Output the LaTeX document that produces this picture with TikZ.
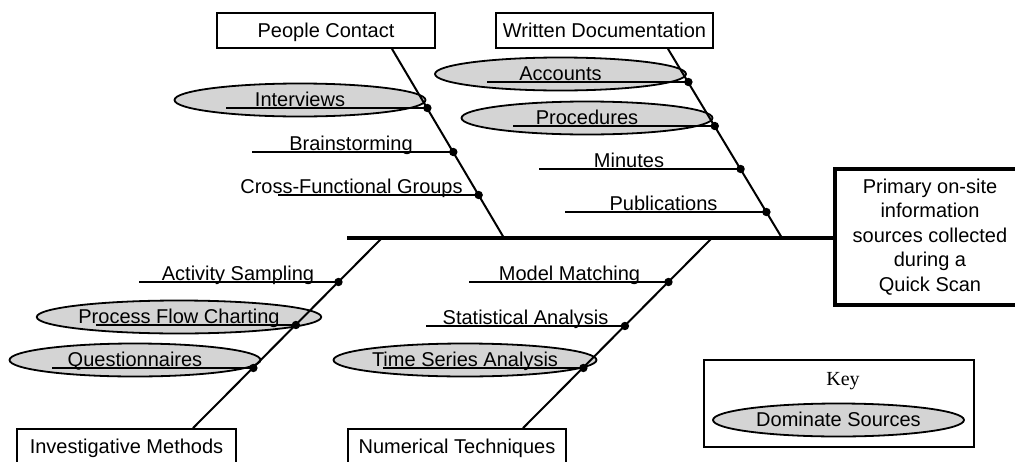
\documentclass[tikz,border=0pt]{standalone}
\usepackage{fontspec}
\setmainfont{Liberation Sans}
\newfontfamily\keyfont{Liberation Serif}
\usetikzlibrary{shapes.geometric,calc}
\definecolor{ellgray}{RGB}{212,212,212}
\tikzset{
  catbox/.style={draw=black, line width=1.8pt, fill=white, minimum height=35pt, inner sep=0pt, text height=14pt, text depth=1pt, font=\fontsize{20pt}{24pt}\selectfont},
  effectbox/.style={draw=black, line width=4pt, fill=white, inner sep=0pt, align=center, font=\fontsize{20pt}{24.4pt}\selectfont},
  keybox/.style={draw=black, line width=1.5pt, fill=white, inner sep=0pt},
  srcell/.style={ellipse, draw=black, line width=1.8pt, fill=ellgray, minimum width=251pt, minimum height=33pt, inner sep=0pt, text height=14pt, text depth=2pt, font=\fontsize{20pt}{24pt}\selectfont},
  srclabel/.style={inner sep=0pt, text height=14pt, text depth=2pt, font=\fontsize{20pt}{24pt}\selectfont},
  bone/.style={line width=2pt, draw=black},
  spine/.style={line width=4pt, draw=black},
  twig/.style={line width=1.6pt, draw=black},
  joint/.style={fill=black}
}
\begin{document}
\begin{tikzpicture}[x=1pt,y=-1pt]
\useasboundingbox (0,0) rectangle (1015,461);
\clip (0,0) rectangle (1015,461);

% category boxes
\node[catbox, minimum width=218pt] (pc) at (326,30.5) {People Contact};
\node[catbox, minimum width=217pt] (wd) at (604.5,30.5) {Written Documentation};
\node[catbox, minimum width=219pt] (im) at (126.5,446.5) {Investigative Methods};
\node[catbox, minimum width=218pt] (nt) at (457,446.5) {Numerical Techniques};

% effect box
\node[effectbox, minimum width=190pt, minimum height=136pt] (eff) at (930,237)
  {Primary on-site\\information\\sources collected\\during a\\Quick Scan};

% spine
\coordinate (sl) at (347,238);
\draw[spine] (sl) -- (eff.west |- sl);

% bone end points
\coordinate (pcT) at (392,48);  \coordinate (pcB) at (504,238);
\coordinate (wdT) at (668,48);  \coordinate (wdB) at (782,238);
\coordinate (imT) at (382,238); \coordinate (imB) at (193,429);
\coordinate (ntT) at (712,238); \coordinate (ntB) at (523,429);

% joints on bones
\coordinate (j1) at ($(pcT)!{60/190}!(pcB)$);
\coordinate (j2) at ($(pcT)!{104/190}!(pcB)$);
\coordinate (j3) at ($(pcT)!{147/190}!(pcB)$);
\coordinate (j4) at ($(wdT)!{34/190}!(wdB)$);
\coordinate (j5) at ($(wdT)!{78/190}!(wdB)$);
\coordinate (j6) at ($(wdT)!{121/190}!(wdB)$);
\coordinate (j7) at ($(wdT)!{164/190}!(wdB)$);
\coordinate (j8) at ($(imT)!{44/191}!(imB)$);
\coordinate (j9) at ($(imT)!{87/191}!(imB)$);
\coordinate (j10) at ($(imT)!{130/191}!(imB)$);
\coordinate (j11) at ($(ntT)!{44/191}!(ntB)$);
\coordinate (j12) at ($(ntT)!{88/191}!(ntB)$);
\coordinate (j13) at ($(ntT)!{130/191}!(ntB)$);

% free ends of twigs
\coordinate (e1) at (226,108);
\coordinate (e2) at (252,152);
\coordinate (e3) at (278,195);
\coordinate (e4) at (487,82);
\coordinate (e5) at (513,126);
\coordinate (e6) at (539,169);
\coordinate (e7) at (565,212);
\coordinate (e8) at (139,282);
\coordinate (e9) at (96,325);
\coordinate (e10) at (52,368);
\coordinate (e11) at (469,282);
\coordinate (e12) at (426,326);
\coordinate (e13) at (383,368);

% dominant-source ellipses (behind twigs)
\node[srcell] (s1) at (300,100) {Interviews};
\node[srcell] (s4) at (560.5,74) {Accounts};
\node[srcell] (s5) at (587,118) {Procedures};
\node[srcell] (s9) at (179,317) {Process Flow Charting};
\node[srcell] (s10) at (135,360) {Questionnaires};
\node[srcell] (s13) at (465,360) {Time Series Analysis};

% bones
\draw[bone] (pc.south -| pcT) -- (pcB);
\draw[bone] (wd.south -| wdT) -- (wdB);
\draw[bone] (imT) -- (im.north -| imB);
\draw[bone] (ntT) -- (nt.north -| ntB);

% twigs
\foreach \i in {1,...,13} {\draw[twig] (e\i) -- (j\i);}
\foreach \i in {1,...,13} {\fill[joint] (j\i) circle[radius=4.2pt];}

% plain labels
\node[srclabel] (s2) at (351,144) {Brainstorming};
\node[srclabel] (s3) at (351.5,187) {Cross-Functional Groups};
\node[srclabel] (s6) at (629,161) {Minutes};
\node[srclabel] (s7) at (663.5,204) {Publications};
\node[srclabel] (s8) at (238,274) {Activity Sampling};
\node[srclabel] (s11) at (569.5,274) {Model Matching};
\node[srclabel] (s12) at (525.5,318) {Statistical Analysis};

% key
\node[keybox, minimum width=270pt, minimum height=87pt] (key) at (839,403.5) {};
\node[font=\keyfont\fontsize{20pt}{24pt}\selectfont, inner sep=0pt] (keyt) at (843,381) {Key};
\node[srcell] (dom) at (838.5,420) {Dominate Sources};
\end{tikzpicture}
\end{document}
